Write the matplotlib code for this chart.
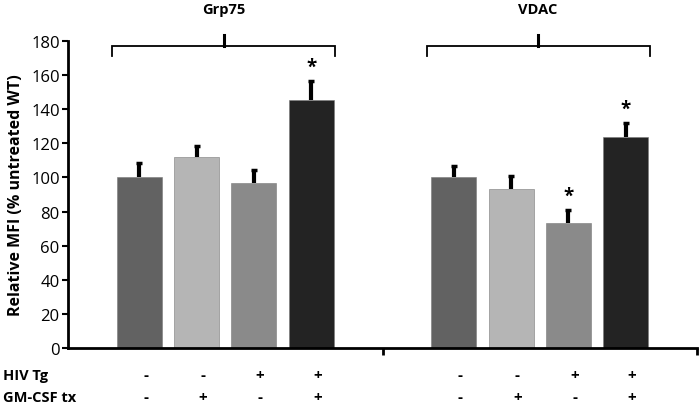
import numpy as np
import matplotlib
matplotlib.use('Agg')
import matplotlib.pyplot as plt
import matplotlib.transforms as mtransforms

plt.rcParams['font.family'] = ['Open Sans', 'DejaVu Sans']

# data
groups = ['Grp75', 'VDAC']
grp75 = [100, 112, 97, 145.5]
grp75Err = [8.5, 6.5, 7.5, 11]
vdac = [100, 93.5, 73.5, 124]
vdacErr = [6.5, 7.5, 7.5, 8]
hivTg = ['-', '-', '+', '+']
gmcsf = ['-', '+', '-', '+']
starsGrp75 = [False, False, False, True]
starsVdac = [False, False, True, True]
colors = ['#626262', '#b5b5b5', '#8a8a8a', '#232323']

fig = plt.figure(figsize=(7, 4.06), dpi=100)
ax = fig.add_axes([68/700, 1 - 349/406, 629/700, 307/406])

offsets = (np.arange(4) - 1.5)*0.182
width = 0.143
allVals = [grp75, vdac]
allErr = [grp75Err, vdacErr]
allStars = [starsGrp75, starsVdac]

for g in range(2):
  xs = g + 0.5 + offsets
  vals = np.array(allVals[g])
  tops = vals + np.array(allErr[g])
  ax.bar(xs, vals, width, color=colors, edgecolor='#7a7a7a', linewidth=0.4, zorder=2)
  # upper error bars only
  ax.vlines(xs, vals, tops, color='black', lw=3, zorder=3)
  ax.scatter(xs, tops, marker='_', s=25, linewidths=2.5, color='black', zorder=3)
  for i in range(4):
    if allStars[g][i]:
      ax.text(xs[i], tops[i] + 2.5, '*', ha='center', va='bottom',
              fontsize=13.5, fontweight='bold')
  # bracket over the group
  c = g + 0.5 - 0.005
  ax.plot([c - 0.355, c - 0.355, c + 0.355, c + 0.355], [171, 177, 177, 171],
          color='black', lw=1.3, clip_on=False, solid_joinstyle='miter')
  ax.plot([c, c], [177, 183.5], color='black', lw=2.2, clip_on=False)
  ax.text(c, 199, groups[g], ha='center', va='center', fontsize=10.5, fontweight='bold')

ax.set_xlim(0, 2)
ax.set_ylim(0, 180)
ax.set_yticks(np.arange(0, 181, 20))
ax.set_xticks([1, 2])
ax.set_xticklabels([])
for s in ['top', 'right']:
  ax.spines[s].set_visible(False)
for s in ['left', 'bottom']:
  ax.spines[s].set_linewidth(2)
ax.tick_params(axis='y', direction='out', length=4, width=1.5, labelsize=12, pad=2)
ax.tick_params(axis='x', direction='out', length=5, width=2)
ax.set_ylabel('Relative MFI (% untreated WT)', fontsize=11.5, fontweight='bold', labelpad=5)

# treatment table under the axis
trans = mtransforms.blended_transform_factory(ax.transData, ax.transAxes)
fig.text(3/700, 1 - 376/406, 'HIV Tg', ha='left', va='center', fontsize=10.5, fontweight='bold')
fig.text(3/700, 1 - 398/406, 'GM-CSF tx', ha='left', va='center', fontsize=10.5, fontweight='bold')
for g in range(2):
  xs = g + 0.5 + offsets + 0.02
  for i in range(4):
    ax.text(xs[i], -0.088, hivTg[i], transform=trans, ha='center', va='center',
            fontsize=11, fontweight='bold')
    ax.text(xs[i], -0.16, gmcsf[i], transform=trans, ha='center', va='center',
            fontsize=11, fontweight='bold')

fig.savefig('out.png', dpi=100)
